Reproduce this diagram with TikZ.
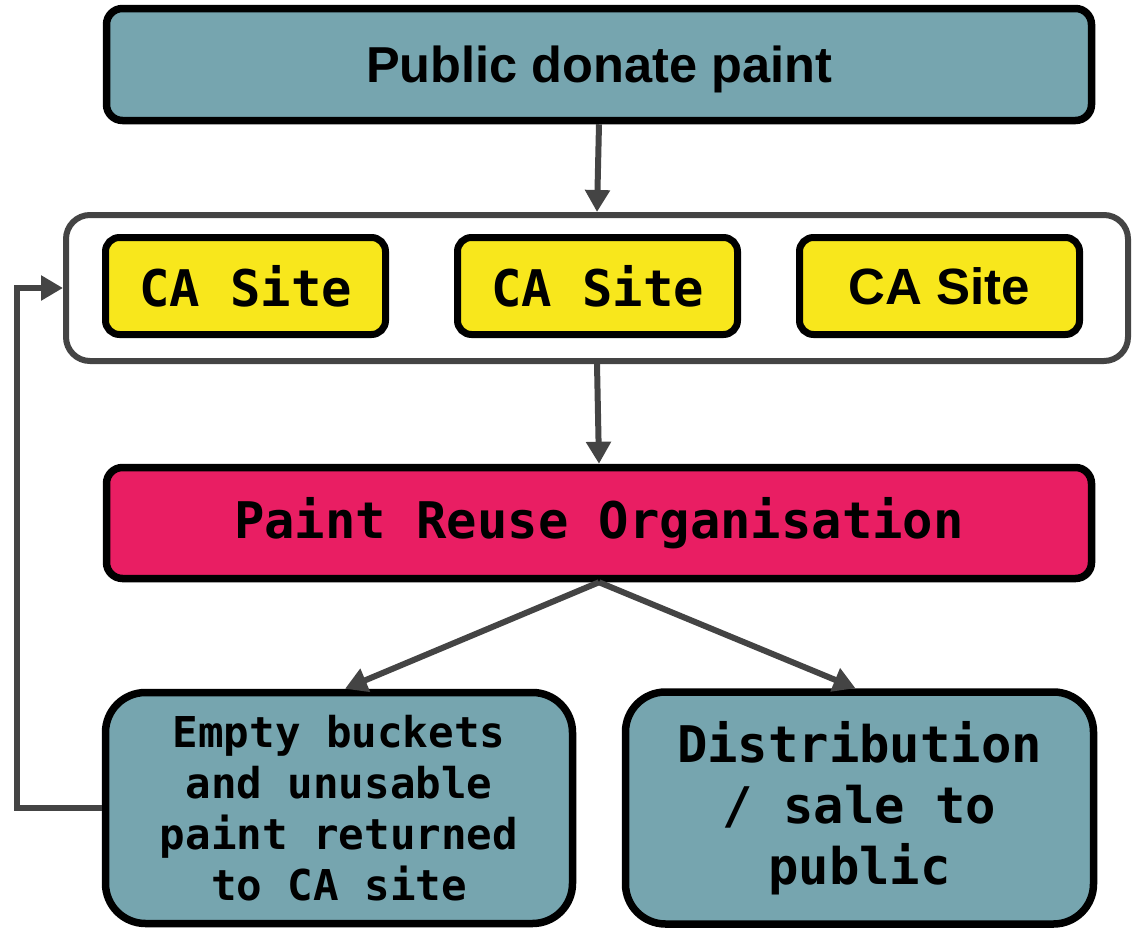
\documentclass[tikz,border=0pt]{standalone}
\usepackage{fontspec}
\setmainfont{Liberation Sans}
\newfontfamily\monofam{DejaVu Sans Mono}
\usetikzlibrary{arrows.meta}
\definecolor{teal}{HTML}{76A5AF}
\definecolor{cayellow}{HTML}{F8E71C}
\definecolor{pinkred}{HTML}{E91E63}
\definecolor{darkgray}{HTML}{444444}
\begin{document}
\begin{tikzpicture}[x=1pt,y=-1pt,
  box/.style={draw=black,line width=7.5pt,rounded corners=16pt,align=center,inner sep=0pt},
  sitebox/.style={box,fill=cayellow,line width=7pt,minimum width=280pt,minimum height=97pt,rounded corners=14pt},
  arr/.style={draw=darkgray,line width=6pt,-{Triangle[width=24pt,length=22pt]}},
  monotext/.style={font=\monofam\bfseries\fontsize{50.5}{56}\selectfont}
]
\useasboundingbox (0,0) rectangle (1136,929);
\node[box,fill=teal,minimum width=985pt,minimum height=112pt,text height=47pt,text depth=10.6pt,font=\bfseries\fontsize{50.5}{56}\selectfont] (top) at (599,64.5) {Public donate paint};
\node[draw=darkgray,line width=6pt,rounded corners=24pt,fill=white,minimum width=1062pt,minimum height=146pt] (cont) at (597,288) {};
\node[sitebox,monotext] (ca1) at (245.5,286) {CA Site};
\node[sitebox,monotext] (ca2) at (597.5,286) {CA Site};
\node[sitebox,font=\bfseries\fontsize{51}{56}\selectfont] (ca3) at (939.5,286) {CA Site};
\node[box,fill=pinkred,minimum width=985pt,minimum height=111pt,monotext] (pro) at (599,523) {Paint Reuse Organisation};
\node[box,fill=teal,rounded corners=40pt,minimum width=467pt,minimum height=231pt,font=\monofam\bfseries\fontsize{42.5}{51}\selectfont] (bl) at (339,808) {Empty buckets\\and unusable\\paint returned\\to CA site};
\node[box,fill=teal,rounded corners=40pt,minimum width=468pt,minimum height=232pt,font=\monofam\bfseries\fontsize{50.5}{61}\selectfont] (br) at (859.5,808) {Distribution\\/ sale to\\public};
\draw[arr] (top.south) -- (cont.north);
\draw[arr] (cont.south) -- (pro.north);
\draw[arr] (pro.south) -- ([xshift=6pt]bl.north);
\draw[arr] (pro.south) -- ([xshift=-4pt]br.north);
\draw[arr] (bl.west) -- ++(-85,0) |- (cont.west);
\end{tikzpicture}
\end{document}
